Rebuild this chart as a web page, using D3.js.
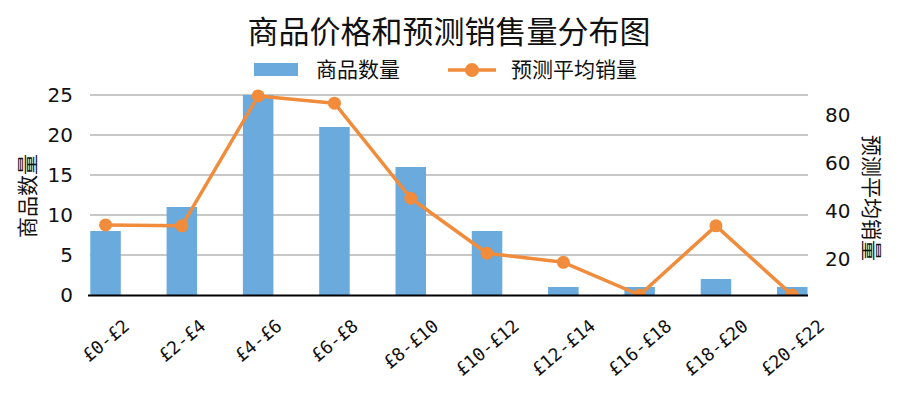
<!DOCTYPE html>
<html><head><meta charset="utf-8">
<script src="https://cdn.jsdelivr.net/npm/d3@7"></script>
<style>body{margin:0;background:#fff}</style>
</head><body><svg id="c" width="898" height="397"></svg>
<script>
const categories = ["£0-£2","£2-£4","£4-£6","£6-£8","£8-£10","£10-£12","£12-£14","£16-£18","£18-£20","£20-£22"];
const productCount = [8, 11, 25, 21, 16, 8, 1, 1, 2, 1];
const avgSales = [34.2, 33.8, 87.9, 84.9, 45.3, 22.4, 18.6, 5, 33.8, 5];
const leftTicks = [0, 5, 10, 15, 20, 25];
const rightTicks = [20, 40, 60, 80];

const svg = d3.select("#c");
const cjk = "'Noto Sans CJK SC', 'Noto Sans', sans-serif";
const pL = 90, pR = 808, pT = 95, pB = 295;

const x = d3.scaleBand().domain(categories).range([67.4, 830.4]).paddingInner(0.6).paddingOuter(0.3);
const xc = d => x(d) + x.bandwidth() / 2;
const y = d3.scaleLinear().domain([0, 25]).range([pB, pT]);
const y2 = d3.scaleLinear().domain([5, 88.3]).range([pB, pT]);

svg.append("defs").append("clipPath").attr("id", "plotclip").append("rect")
  .attr("x", pL - 20).attr("y", pT - 20).attr("width", pR - pL + 40).attr("height", pB - pT + 21);

// gridlines
svg.append("g").selectAll("line").data(leftTicks.filter(t => t > 0)).join("line")
  .attr("x1", pL).attr("x2", pR).attr("y1", d => y(d)).attr("y2", d => y(d))
  .attr("stroke", "#b4b4b4").attr("stroke-width", 1.5);

// bars
svg.append("g").selectAll("rect").data(productCount).join("rect")
  .attr("x", (d, i) => x(categories[i]))
  .attr("width", x.bandwidth())
  .attr("y", d => y(d)).attr("height", d => pB - y(d))
  .attr("fill", "#6aaadc");

// line
const lineG = svg.append("g").attr("clip-path", "url(#plotclip)");
const line = d3.line().x((d, i) => xc(categories[i])).y(d => y2(d));
lineG.append("path").datum(avgSales).attr("d", line).attr("fill", "none")
  .attr("stroke", "#f08c3c").attr("stroke-width", 3.5).attr("stroke-linejoin", "round");
lineG.selectAll("circle").data(avgSales).join("circle")
  .attr("cx", (d, i) => xc(categories[i])).attr("cy", d => y2(d)).attr("r", 6.5)
  .attr("fill", "#f08c3c");

// baseline
svg.append("line").attr("x1", pL - 2).attr("x2", pR).attr("y1", pB + 0.5).attr("y2", pB + 0.5)
  .attr("stroke", "#000").attr("stroke-width", 2);

// left axis labels
svg.append("g").selectAll("text").data(leftTicks).join("text")
  .attr("x", 73).attr("y", d => y(d)).attr("dy", "0.35em").attr("text-anchor", "end")
  .attr("font-family", "'DejaVu Sans', sans-serif").attr("font-size", 20).attr("fill", "#111")
  .text(d => d);

// right axis labels
svg.append("g").selectAll("text").data(rightTicks).join("text")
  .attr("x", 825).attr("y", d => y2(d)).attr("dy", "0.35em").attr("text-anchor", "start")
  .attr("font-family", "'DejaVu Sans', sans-serif").attr("font-size", 20).attr("fill", "#111")
  .text(d => d);

// x labels: rotated box centred on the tick, top aligned below the axis
const ang = 40, rad = ang * Math.PI / 180, fs = 18, h = fs * 0.72, labelTop = 318;
svg.append("g").selectAll("text").data(categories).join("text")
  .attr("text-anchor", "middle").attr("dominant-baseline", "central")
  .attr("font-family", "'DejaVu Sans Mono', monospace").attr("font-size", fs).attr("fill", "#111")
  .text(d => d)
  .each(function(d) {
    const w = this.getComputedTextLength();
    const vert = w * Math.sin(rad) + h * Math.cos(rad);
    d3.select(this).attr("transform", `translate(${xc(d)},${labelTop + vert / 2}) rotate(${-ang})`);
  });

// axis titles
svg.append("text").attr("transform", "translate(35,196) rotate(-90)").attr("text-anchor", "middle")
  .attr("font-family", cjk).attr("font-size", 21).attr("fill", "#111").text("商品数量");
svg.append("text").attr("transform", "translate(864,198) rotate(90)").attr("text-anchor", "middle")
  .attr("font-family", cjk).attr("font-size", 21).attr("fill", "#111").text("预测平均销量");

// title
svg.append("text").attr("x", 449).attr("y", 43).attr("text-anchor", "middle")
  .attr("font-family", cjk).attr("font-size", 31).attr("fill", "#111").text("商品价格和预测销售量分布图");

// legend
const lg = svg.append("g");
lg.append("rect").attr("x", 254).attr("y", 63).attr("width", 44).attr("height", 13).attr("fill", "#6aaadc");
lg.append("text").attr("x", 316).attr("y", 70).attr("dy", "0.35em").attr("font-family", cjk)
  .attr("font-size", 21).attr("fill", "#111").text("商品数量");
lg.append("line").attr("x1", 448).attr("x2", 496).attr("y1", 70).attr("y2", 70)
  .attr("stroke", "#f08c3c").attr("stroke-width", 3.5);
lg.append("circle").attr("cx", 472).attr("cy", 70).attr("r", 7).attr("fill", "#f08c3c");
lg.append("text").attr("x", 511).attr("y", 70).attr("dy", "0.35em").attr("font-family", cjk)
  .attr("font-size", 21).attr("fill", "#111").text("预测平均销量");
</script></body></html>
